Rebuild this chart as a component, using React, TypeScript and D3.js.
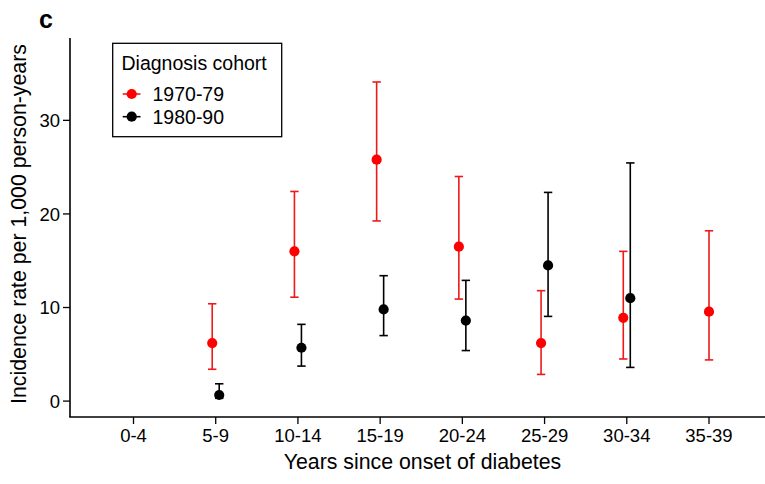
import React from "react";
import * as d3 from "d3";

const categories = ["0-4", "5-9", "10-14", "15-19", "20-24", "25-29", "30-34", "35-39"];
const yTicks = [0, 10, 20, 30];

// Diagnosis cohort 1970-79
const cohort7079Cats = ["5-9", "10-14", "15-19", "20-24", "25-29", "30-34", "35-39"];
const cohort7079Rate = [6.2, 16.0, 25.8, 16.5, 6.2, 8.9, 9.55];
const cohort7079Low = [3.4, 11.1, 19.25, 10.9, 2.85, 4.5, 4.4];
const cohort7079High = [10.4, 22.4, 34.1, 24.0, 11.8, 16.0, 18.2];

// Diagnosis cohort 1980-90
const cohort8090Cats = ["5-9", "10-14", "15-19", "20-24", "25-29", "30-34"];
const cohort8090Rate = [0.65, 5.7, 9.8, 8.6, 14.5, 11.0];
const cohort8090Low = [0.3, 3.74, 7.0, 5.4, 9.05, 3.6];
const cohort8090High = [1.85, 8.2, 13.4, 12.9, 22.3, 25.45];

const seriesNames = ["1970-79", "1980-90"];
const seriesColors = ["#ff0000", "#000000"];
const barColors = ["#f01818", "#000000"];

const W = 765;
const H = 484;
const FONT = "'Liberation Sans', Arial, Helvetica, sans-serif";

export default function App() {
  const x = d3.scalePoint<string>().domain(categories).range([133.5, 709]);
  const y = d3.scaleLinear().domain([-1.7, 38.8]).range([417, 38]);
  const dodge = 3.5;

  const series = [
    { cats: cohort7079Cats, rate: cohort7079Rate, low: cohort7079Low, high: cohort7079High },
    { cats: cohort8090Cats, rate: cohort8090Rate, low: cohort8090Low, high: cohort8090High },
  ];

  const countAt = (c: string) => series.filter((s) => s.cats.includes(c)).length;
  const xPos = (c: string, si: number) => {
    const base = x(c) as number;
    if (countAt(c) < 2) return base;
    return base + (si === 0 ? -dodge : dodge);
  };

  const capW = 4.2;
  const r = 5.1;
  const sw = 1.6;

  return (
    <svg
      width={W}
      height={H}
      style={{ position: "absolute", left: 0, top: 0, background: "#fff" }}
      fontFamily={FONT}
    >
      <rect x={0} y={0} width={W} height={H} fill="#fff" />
      {/* panel label */}
      <text x={39} y={28} fontSize={25} fontWeight="bold" fill="#000">c</text>

      {/* axes */}
      <line x1={70} x2={70} y1={y(38.8)} y2={417} stroke="#000" strokeWidth={1.6} />
      <line x1={69.2} x2={765} y1={417} y2={417} stroke="#000" strokeWidth={1.6} />

      {yTicks.map((t) => (
        <g key={t}>
          <line x1={63} x2={70} y1={y(t)} y2={y(t)} stroke="#000" strokeWidth={1.3} />
          <text x={60} y={y(t)} dy="0.36em" textAnchor="end" fontSize={18.5} fill="#000">
            {t}
          </text>
        </g>
      ))}

      {categories.map((c) => (
        <g key={c}>
          <line x1={x(c)} x2={x(c)} y1={417} y2={424} stroke="#000" strokeWidth={1.3} />
          <text x={x(c)} y={442} textAnchor="middle" fontSize={18.5} fill="#000">
            {c}
          </text>
        </g>
      ))}

      <text x={422.5} y={469} textAnchor="middle" fontSize={21.3} fill="#000">
        Years since onset of diabetes
      </text>
      <text
        transform={`translate(25.5, 224) rotate(-90)`}
        textAnchor="middle"
        fontSize={21.3}
        fill="#000"
      >
        Incidence rate per 1,000 person-years
      </text>

      {/* error bars and points */}
      {series.map((s, si) => (
        <g key={si}>
          {s.cats.map((c, i) => {
            const cx = xPos(c, si);
            const col = barColors[si];
            return (
              <g key={c}>
                <line x1={cx} x2={cx} y1={y(s.low[i])} y2={y(s.high[i])} stroke={col} strokeWidth={sw} />
                <line x1={cx - capW} x2={cx + capW} y1={y(s.low[i])} y2={y(s.low[i])} stroke={col} strokeWidth={sw} />
                <line x1={cx - capW} x2={cx + capW} y1={y(s.high[i])} y2={y(s.high[i])} stroke={col} strokeWidth={sw} />
                <circle cx={cx} cy={y(s.rate[i])} r={r} fill={seriesColors[si]} />
              </g>
            );
          })}
        </g>
      ))}

      {/* legend */}
      <rect x={112.7} y={43.3} width={169} height={93.4} fill="#fff" stroke="#000" strokeWidth={1.3} />
      <text x={121.5} y={70} fontSize={19.5} fill="#000">Diagnosis cohort</text>
      {seriesNames.map((n, i) => {
        const ly = 94 + i * 22.7;
        return (
          <g key={n}>
            <line x1={122.7} x2={140.5} y1={ly} y2={ly} stroke={barColors[i]} strokeWidth={sw} />
            <circle cx={131.7} cy={ly} r={r} fill={seriesColors[i]} />
            <text x={152.5} y={ly} dy="0.36em" fontSize={19.5} fill="#000">
              {n}
            </text>
          </g>
        );
      })}
    </svg>
  );
}
